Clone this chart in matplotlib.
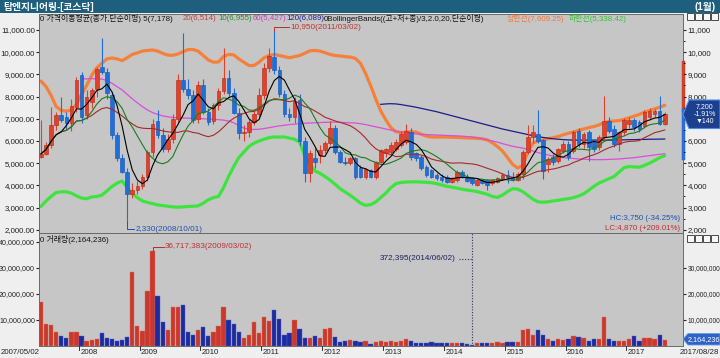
import numpy as np
import pandas as pd
import matplotlib
matplotlib.use("Agg")
import matplotlib.pyplot as plt
from matplotlib import font_manager as fm
from matplotlib.patches import Rectangle, Polygon


def _has(name):
    try:
        fm.findfont(fm.FontProperties(family=name), fallback_to_default=False)
        return True
    except Exception:
        return False


LAT = next((f for f in ["Liberation Sans Narrow", "DejaVu Sans Condensed", "Liberation Sans"] if _has(f)), "DejaVu Sans")
NARROW = LAT in ("Liberation Sans Narrow", "DejaVu Sans Condensed")
plt.rcParams["font.family"] = [LAT, "Noto Sans CJK KR", "DejaVu Sans"]
plt.rcParams["axes.unicode_minus"] = False
K = 1.2 if NARROW else 1.0   # font scale (narrow fonts may be larger)

# ---------------- data (monthly, 2007/05 .. 2017/08) ----------------
start_month = "2007-05"
first_label = "2007/05/02"
last_label = "2017/08/28"

opens = [5300, 5420, 5820, 6720, 7170, 7070, 6800, 7550, 8970, 7170,
         7770, 8330, 9320, 9120, 8070, 6270, 5220, 4620, 3620, 3780,
         3990, 4360, 5490, 6900, 6250, 5640, 6090, 7000, 8730, 8320,
         8050, 7000, 8540, 7300, 6900, 7600, 8270, 8850, 8180, 7280,
         6340, 6400, 6840, 7200, 8050, 9300, 9800, 9220, 8120, 7220,
         7100, 7850, 6000, 4540, 5220, 5370, 5590, 5890, 6570, 5520,
         5070, 4990, 5220, 4770, 4400, 4700, 4400, 5070, 5450, 5500,
         5650, 5820, 5940, 6400, 5440, 5290, 4840, 4690, 4470, 4400,
         4390, 4170, 4250, 4600, 4400, 4320, 4020, 4240, 4240, 4090,
         4170, 4320, 4470, 4400, 4250, 4500, 5490, 6165, 6315, 6045,
         4960, 5260, 5110, 5560, 5860, 5560, 6460, 5860, 6390, 5940,
         5710, 6160, 6910, 6540, 5860, 6390, 6760, 6940, 6840, 6690,
         7060, 7210, 7360, 6770]
highs = [6950, 5950, 7550, 7300, 8000, 7300, 7900, 8900, 9100, 8300,
         8400, 9350, 10620, 9300, 8200, 6400, 5400, 4800, 4100, 4200,
         4500, 5600, 7000, 7400, 6600, 6300, 7200, 9000, 10850, 8800,
         8300, 8700, 8800, 7500, 7700, 8400, 10200, 9200, 8400, 7500,
         6700, 7000, 7400, 8400, 9500, 10200, 10950, 9400, 8300, 7500,
         8000, 8100, 6200, 5600, 5700, 5800, 6000, 6900, 6700, 5600,
         5300, 5300, 5300, 4900, 4800, 4750, 5100, 5650, 5700, 5950,
         6100, 6450, 6750, 6600, 5500, 5350, 4900, 4750, 4550, 4500,
         4450, 4400, 4700, 4700, 4500, 4400, 4300, 4300, 4300, 4300,
         4400, 4550, 4700, 4600, 4600, 5600, 6700, 6700, 7380, 6100,
         5300, 5400, 5700, 6000, 6000, 6500, 6600, 6400, 6500, 6100,
         6250, 8040, 7100, 6700, 6450, 7050, 7100, 7050, 6950, 7400,
         7500, 7450, 8040, 7300]
lows = [5250, 5350, 5700, 6500, 6850, 6500, 6450, 7300, 6800, 7000,
        7500, 8000, 9000, 7900, 6100, 5100, 4550, 2330, 3450, 3600,
        3850, 4200, 5300, 6150, 5500, 5500, 5900, 6800, 8200, 7900,
        6800, 6800, 7200, 6700, 6750, 7400, 8100, 8000, 7200, 6100,
        6000, 6200, 6700, 7100, 7900, 9100, 9000, 8000, 7100, 6900,
        6800, 5800, 4170, 4150, 4800, 5000, 5450, 5800, 5400, 5000,
        4900, 4900, 4300, 4350, 4300, 4350, 4300, 5000, 5300, 5400,
        5550, 5750, 5850, 5150, 5100, 4700, 4400, 4350, 4250, 4150,
        4100, 4100, 4150, 4350, 4150, 4000, 3950, 4050, 3800, 4000,
        4100, 4250, 4100, 4200, 4200, 4290, 5400, 5900, 5900, 4300,
        4600, 4900, 5000, 5450, 5150, 5450, 5750, 5700, 5100, 5500,
        5600, 6050, 6350, 5750, 5550, 6250, 6600, 6450, 6400, 6600,
        6950, 7100, 6700, 6700]
closes = [5420, 5820, 6720, 7170, 6950, 6800, 7580, 8750, 7100, 8000,
          8300, 9230, 9120, 8150, 6270, 5220, 4620, 3620, 3780, 3990,
          4360, 5490, 6770, 6250, 5640, 6090, 7000, 8730, 8320, 8050,
          6950, 8540, 7300, 6860, 7600, 8270, 8850, 8180, 7280, 6340,
          6400, 6840, 7200, 8050, 9300, 9850, 9220, 8120, 7220, 7070,
          7800, 6000, 4540, 5440, 5070, 5590, 5890, 6570, 5520, 5070,
          4990, 5220, 4390, 4400, 4750, 4400, 5070, 5590, 5650, 5800,
          5950, 6300, 6460, 5300, 5220, 4770, 4470, 4400, 4320, 4250,
          4170, 4350, 4620, 4400, 4200, 4090, 4240, 4100, 4020, 4240,
          4320, 4470, 4400, 4250, 4500, 5490, 6165, 6390, 6015, 4650,
          5190, 5040, 5640, 5860, 5260, 6390, 5860, 6310, 5710, 5640,
          6160, 6910, 6460, 5860, 6390, 6940, 6940, 6610, 6540, 7290,
          7360, 7360, 6770, 7200]
volumes = [17000000, 8300000, 8200000, 5500000, 3800000, 2900000, 5300000, 5300000, 4000000, 2100000,
           2300000, 2800000, 4900000, 3100000, 2600000, 2100000, 2300000, 3600000, 28300000, 7700000,
           5900000, 21200000, 36717383, 19100000, 9400000, 6200000, 15100000, 15100000, 15900000, 5300000,
           4200000, 6000000, 7300000, 4000000, 5300000, 7800000, 14900000, 10000000, 8400000, 5200000,
           2900000, 4400000, 9200000, 5100000, 11000000, 9700000, 13800000, 10500000, 4100000, 5100000,
           10000000, 6700000, 2900000, 3100000, 4000000, 3100000, 6700000, 7100000, 3300000, 1700000,
           2000000, 2300000, 2100000, 1400000, 2100000, 900000, 1700000, 1800000, 1700000, 2000000,
           1500000, 1800000, 2600000, 2000000, 1200000, 1200000, 1200000, 1700000, 1300000, 1200000,
           1000000, 1000000, 1300000, 1000000, 800000, 372395, 1300000, 1300000, 1200000, 1300000,
           1400000, 1300000, 1700000, 1700000, 1500000, 6200000, 6700000, 4400000, 6200000, 4100000,
           2700000, 2100000, 2600000, 2300000, 2600000, 4000000, 3300000, 3000000, 2100000, 2700000,
           2500000, 11300000, 2700000, 2100000, 2100000, 2100000, 2600000, 4000000, 2100000, 3000000,
           2900000, 2700000, 4200000, 2164236]

bb_upper = [8700, 8450, 8050, 7550, 7380, 7340, 7400, 7650, 8100, 8500,
            8950, 9300, 9500, 9700, 9740, 9700, 9620, 9750, 9900, 9970,
            10050, 10080, 10100, 10050, 9950, 9870, 9860, 9920, 10020, 10120,
            10120, 10050, 9850, 9650, 9550, 9560, 9800, 9900, 9880, 9700,
            9550, 9400, 9400, 9550, 9750, 9850, 9900, 9850, 9800, 9750,
            9800, 9850, 9950, 10060, 10080, 10050, 9980, 9900, 9850, 9830,
            9800, 9780, 9720, 9500, 9050, 8500, 7900, 7350, 6950, 6600,
            6420, 6380, 6400, 6420, 6400, 6300, 6220, 6180, 6180, 6180,
            6180, 6170, 6160, 6150, 6140, 6130, 6120, 6100, 6050, 5920,
            5750, 5550, 5250, 4950, 4780, 4900, 5500, 5900, 6000, 6050,
            6100, 6150, 6200, 6280, 6350, 6400, 6480, 6540, 6600, 6650,
            6720, 6820, 6880, 6900, 6920, 6970, 7050, 7120, 7200, 7300,
            7370, 7450, 7520, 7609]
bb_lower = [3050, 3300, 3500, 3680, 3710, 3710, 3650, 3530, 3430, 3400,
            3480, 3500, 3560, 3750, 3950, 4100, 4200, 3900, 3620, 3450,
            3300, 3230, 3180, 3120, 3090, 3060, 3030, 3020, 3030, 3050,
            3060, 3080, 3200, 3350, 3450, 3500, 3900, 4400, 4850, 5250,
            5500, 5750, 5900, 6000, 6080, 6150, 6180, 6180, 6180, 6130,
            6080, 5950, 5350, 4980, 4650, 4550, 4400, 4240, 4050, 3850,
            3700, 3550, 3380, 3200, 3100, 3130, 3250, 3450, 3650, 3900,
            4080, 4130, 4150, 4160, 4160, 4150, 4140, 4120, 4080, 4020,
            3960, 3920, 3880, 3830, 3790, 3760, 3720, 3660, 3600, 3500,
            3460, 3560, 3720, 3850, 3830, 3720, 3550, 3380, 3260, 3240,
            3260, 3300, 3330, 3370, 3400, 3450, 3520, 3620, 3780, 3950,
            4100, 4200, 4300, 4400, 4600, 4800, 4850, 4830, 4820, 4900,
            5000, 5120, 5250, 5338]
ma60_start = 8
ma60 = [8800, 8800, 8810, 8800, 8790, 8720, 8600, 8450, 8300, 8100,
        7900, 7720, 7550, 7400, 7280, 7200, 7130, 7090, 7060, 7050,
        7040, 7030, 7020, 7010, 7000, 6990, 6980, 6960, 6940, 6900,
        6820, 6700, 6580, 6530, 6520, 6530, 6560, 6600, 6640, 6680,
        6710, 6740, 6760, 6780, 6800, 6810, 6820, 6830, 6840, 6850,
        6850, 6840, 6830, 6820, 6810, 6780, 6740, 6690, 6640, 6590,
        6540, 6490, 6440, 6400, 6370, 6340, 6320, 6300, 6290, 6280,
        6270, 6260, 6250, 6240, 6230, 6220, 6200, 6180, 6150, 6100,
        6050, 6000, 5950, 5880, 5820, 5760, 5720, 5680, 5620, 5550,
        5480, 5420, 5370, 5320, 5280, 5250, 5230, 5210, 5190, 5180,
        5170, 5160, 5160, 5160, 5170, 5180, 5190, 5210, 5230, 5250,
        5280, 5310, 5340, 5370, 5400, 5427]
ma120_start = 67
ma120 = [7650, 7670, 7680, 7670, 7640, 7600, 7560, 7520, 7470, 7420,
         7370, 7320, 7260, 7200, 7140, 7080, 7020, 6960, 6900, 6840,
         6780, 6720, 6660, 6600, 6540, 6490, 6440, 6390, 6340, 6290,
         6240, 6200, 6160, 6130, 6100, 6080, 6060, 6050, 6040, 6040,
         6040, 6040, 6040, 6040, 6040, 6040, 6040, 6050, 6050, 6060,
         6060, 6070, 6070, 6080, 6080, 6085, 6089]

high_note = "10,950(2011/03/02)"
low_note = "2,330(2008/10/01)"
vol_max_note = "36,717,383(2009/03/02)"
vol_min_note = "372,395(2014/06/02)"
hc_note = "HC:3,750 (-34.25%)"
lc_note = "LC:4,870 (+209.01%)"
last_price = 7200
last_change = ["7,200", "-1.91%", "▼140"]
last_volume = "2,164,236"
range_marks = [9570, 7400, 5230]

# ---------------- derived ----------------
n = len(closes)
o = np.array(opens, float); h = np.array(highs, float)
l = np.array(lows, float); c = np.array(closes, float)
vol = np.array(volumes, float)
x = np.arange(n)
months = pd.period_range(start_month, periods=n, freq="M")
s = pd.Series(c)
ma5 = s.rolling(5, min_periods=1).mean()
ma10 = s.rolling(10, min_periods=1).mean()
ma20 = s.rolling(20, min_periods=1).mean()
up = c >= o

# ---------------- figure ----------------
W, H = 720.0, 358.0
fig = plt.figure(figsize=(7.2, 3.58), dpi=100, facecolor="#efefef")


def fx(px):
    return px / W


def fy(py):
    return 1 - py / H


PL, PR, PT, PM, PB = 39, 683, 14, 233, 346
BG = "#c6c6c6"
axp = fig.add_axes([fx(PL), fy(PM), (PR - PL) / W, (PM - PT) / H], facecolor=BG)
axv = fig.add_axes([fx(PL), fy(PB), (PR - PL) / W, (PB - PM) / H], facecolor=BG)

XL = (-0.39, 126.6)
PYL = (1855, 11721)
VYL = (0, 43.46e6)
FS_AX = 5.7 * K
FS_ANN = 5.9 * K
FS_LEG = 5.7

# bands and long MAs
axp.plot(x, bb_upper, color="#f5803a", lw=2.3, zorder=2, solid_capstyle="round")
axp.plot(x, bb_lower, color="#3ee43e", lw=2.3, zorder=2, solid_capstyle="round")
axp.plot(np.arange(ma60_start, ma60_start + len(ma60)), ma60, color="#d94fd9", lw=0.9, zorder=2)
axp.plot(np.arange(ma120_start, ma120_start + len(ma120)), ma120, color="#1c1c8a", lw=0.9, zorder=2)

# candles
body_col = np.where(up, "#e2402a", "#1f6fd8")
edge_col = np.where(up, "#b52512", "#1450b4")
axp.vlines(x, l, h, colors=body_col, lw=0.8, zorder=3)
axp.bar(x, np.maximum(np.abs(c - o), 30), bottom=np.minimum(o, c), width=0.72,
        color=body_col, edgecolor=edge_col, linewidth=0.4, zorder=4)

# short MAs
axp.plot(x, ma20, color="#a52a2a", lw=0.8, zorder=5)
axp.plot(x, ma10, color="#1f7a1f", lw=0.8, zorder=5)
axp.plot(x, ma5, color="#000000", lw=0.8, zorder=5)

axp.set_xlim(*XL); axp.set_ylim(*PYL)
axp.tick_params(axis="x", bottom=False, labelbottom=False)
yt = np.arange(2000, 11001, 1000)
axp.set_yticks(yt)
axp.set_yticklabels([f"{v:,.2f}" for v in yt])
axp.tick_params(axis="y", direction="out", length=2, pad=0.8, labelsize=FS_AX, colors="#222222")

axpr = axp.twinx()
axpr.set_ylim(*PYL)
axpr.set_yticks(yt)
# the 7,000 label sits under the last-price marker, so it is not shown
axpr.set_yticklabels(["" if v == 7000 else f"{v:,}" for v in yt])
axpr.set_yticks(np.arange(2500, 11001, 1000), minor=True)
axpr.tick_params(axis="y", which="major", direction="out", length=2.5, pad=0.8, labelsize=FS_AX, colors="#222222")
axpr.tick_params(axis="y", which="minor", direction="out", length=1.5)

# right range bar
tr = axp.get_yaxis_transform()
axp.plot([1.0, 1.0], [range_marks[0], range_marks[1]], transform=tr, color="#d0402a", lw=2.5, clip_on=False, zorder=6)
axp.plot([1.0, 1.0], [range_marks[1], range_marks[2]], transform=tr, color="#2a6ad8", lw=2.5, clip_on=False, zorder=6)

# annotations on price panel
i_hi = int(np.argmax(h)); i_lo = int(np.argmin(l))
yhi_txt = 11135
axp.plot([i_hi, i_hi, i_hi + 3.0], [h[i_hi], yhi_txt, yhi_txt], color="#b03030", lw=0.7, zorder=6)
axp.text(i_hi + 3.2, yhi_txt, high_note, color="#c03030", fontsize=FS_ANN, va="center", ha="left", zorder=7)
ylo_txt = 2035
axp.plot([i_lo, i_lo, i_lo + 1.4], [l[i_lo], ylo_txt, ylo_txt], color="#2050b0", lw=0.7, zorder=6)
axp.text(i_lo + 1.6, ylo_txt, low_note, color="#2050b0", fontsize=FS_ANN, va="center", ha="left", zorder=7)

# volume
vcol = np.where(up, "#c9382c", "#1d2b9e")
axv.bar(x, vol, width=0.85, color=vcol, edgecolor=np.where(up, "#e07060", "#5060c8"), linewidth=0.3, zorder=3)
axv.set_xlim(*XL); axv.set_ylim(*VYL)
axv.tick_params(axis="x", bottom=False, labelbottom=False)
vt = [1e7, 2e7, 3e7, 4e7]
axv.set_yticks(vt)
axv.set_yticklabels([f"{int(v):,}" for v in vt])
axv.tick_params(axis="y", direction="out", length=2, pad=0.8, labelsize=5.1 * K, colors="#222222")
axvr = axv.twinx()
axvr.set_ylim(*VYL)
axvr.set_yticks(vt[:3])
axvr.set_yticklabels([f"{int(v):,}" for v in vt[:3]])
axvr.tick_params(axis="y", direction="out", length=2.5, pad=0.6, labelsize=4.8 * K, colors="#222222")

i_vmax = int(np.argmax(vol)); i_vmin = int(np.argmin(vol))
yv_txt = 38.1e6
axv.plot([i_vmax, i_vmax, i_vmax + 2.2], [vol[i_vmax], yv_txt, yv_txt], color="#b03030", lw=0.7, zorder=6)
axv.text(i_vmax + 2.4, yv_txt, vol_max_note, color="#c03030", fontsize=FS_ANN, va="center", ha="left", zorder=7)
axv.axvline(i_vmin, color="#303060", lw=0.8, ls=(0, (1, 1.5)), zorder=4)
yv2 = 33.5e6
axv.plot([i_vmin - 2.6, i_vmin], [yv2, yv2], color="#303060", lw=0.8, ls=(0, (1, 1.5)), zorder=4)
axv.text(i_vmin - 3.2, yv2, vol_min_note, color="#202060", fontsize=FS_ANN, va="center", ha="right", zorder=7)

for ax in (axp, axv, axpr, axvr):
    for sp in ax.spines.values():
        sp.set_color("#6a6a6a"); sp.set_linewidth(0.6)

# ---------------- figure-level decorations ----------------
fig.patches.append(Rectangle((0, fy(12.5)), 1, 12.5 / H, transform=fig.transFigure,
                             facecolor="#1f5f7e", edgecolor="none", zorder=5))
fig.text(fx(3), fy(6.5), "탑엔지니어링-[코스닥]", color="white", fontsize=7.0, fontweight="bold",
         va="center", ha="left", zorder=6)
fig.text(fx(716), fy(6.5), "(1월)", color="white", fontsize=7.0, fontweight="bold",
         va="center", ha="right", zorder=6)

LY = 18.5
legend_parts = [
    (40, "0 가격이동평균(종가,단순이평) 5(7,178)", "#111111"),
    (183, "20(6,514)", "#c04040"),
    (218, "10(6,955)", "#2a8a2a"),
    (253, "60(5,427)", "#c040c0"),
    (286, "120(6,089)", "#20208a"),
    (324, "0BollingerBands((고+저+종)/3,2.0,20,단순이평)", "#111111"),
    (507, "상한선(7,609.25)", "#f07838"),
    (569, "하한선(5,338.42)", "#38c038"),
]
for px, txt, colr in legend_parts:
    fig.text(fx(px), fy(LY), txt, color=colr, fontsize=FS_LEG, va="center", ha="left", zorder=6)

fig.text(fx(40), fy(240), "0 거래량(2,164,236)", color="#111111", fontsize=FS_LEG, va="center", ha="left", zorder=6)

fig.text(fx(680), fy(219), hc_note, color="#2050b0", fontsize=FS_AX, va="center", ha="right", zorder=6)
fig.text(fx(680), fy(228), lc_note, color="#c03030", fontsize=FS_AX, va="center", ha="right", zorder=6)

# last price marker
ylp = 30 + (11000 - last_price) * 0.0222
pts = [(683, ylp), (689, 100), (720, 100), (720, 128.5), (689, 128.5)]
fig.patches.append(Polygon([(fx(a), fy(b)) for a, b in pts], closed=True, transform=fig.transFigure,
                           facecolor="#1c3f8e", edgecolor="#4d8de6", lw=0.8, zorder=8))
fig.text(fx(704.5), fy(114.2), "\n".join(last_change), color="white", fontsize=5.0,
         ha="center", va="center", multialignment="center", linespacing=1.05, zorder=9)

# last volume marker
pts = [(683, 339), (688, 333.5), (720, 333.5), (720, 345), (688, 345)]
fig.patches.append(Polygon([(fx(a), fy(b)) for a, b in pts], closed=True, transform=fig.transFigure,
                           facecolor="#2e62c6", edgecolor="#6a9ae8", lw=0.6, zorder=8))
fig.text(fx(703.5), fy(339.3), last_volume, color="white", fontsize=5.2, ha="center", va="center", zorder=9)

# window buttons
for yb in (12.5, 235):
    for k in range(4):
        fig.patches.append(Rectangle((fx(687 + 8 * k), fy(yb + 7)), 7 / W, 7 / H, transform=fig.transFigure,
                                     facecolor="#f8f8f8", edgecolor="#303030", lw=0.6, zorder=8))

# date axis
for i, m in enumerate(months):
    if m.month == 1:
        xp = PL + (i - 0.55 - XL[0]) / (XL[1] - XL[0]) * (PR - PL)
        fig.lines.append(plt.Line2D([fx(xp), fx(xp)], [fy(PB), fy(PB + 4)], transform=fig.transFigure,
                                    color="#333333", lw=0.7))
        fig.text(fx(xp + 1.5), fy(352), str(m.year), color="#222222", fontsize=FS_AX, ha="left", va="center")
fig.text(fx(1), fy(352), first_label, color="#222222", fontsize=FS_AX, ha="left", va="center")
fig.text(fx(719), fy(352), last_label, color="#222222", fontsize=FS_AX, ha="right", va="center")

fig.savefig("out.png", dpi=100, facecolor=fig.get_facecolor())
